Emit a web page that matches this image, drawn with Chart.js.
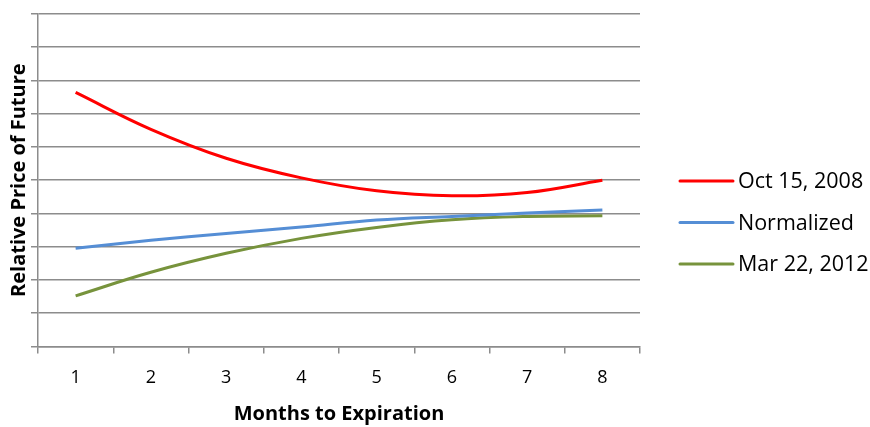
<!DOCTYPE html>
<html>
<head>
<meta charset="utf-8">
<script src="https://cdn.jsdelivr.net/npm/chart.js@4"></script>
<style>
  html, body { margin: 0; padding: 0; background: #fff; }
  #wrap { width: 870px; height: 427px; }
</style>
</head>
<body>
<div id="wrap"><canvas id="futures-chart"></canvas></div>
<script>
// --- Data ---
const months = ['1', '2', '3', '4', '5', '6', '7', '8'];
const oct2008 = [7.64, 6.53, 5.66, 5.07, 4.68, 4.53, 4.63, 5.0];
const normalized = [2.95, 3.19, 3.40, 3.59, 3.80, 3.91, 4.01, 4.10];
const mar2012 = [1.52, 2.23, 2.80, 3.25, 3.58, 3.81, 3.91, 3.93];

const fontFamily = '"Open Sans", Lato, sans-serif';
const gridColor = '#8c8c8c';

function line(label, data, color) {
    return {
        label: label,
        data: data,
        borderColor: color,
        backgroundColor: color,
        borderWidth: 3,
        pointRadius: 0,
        tension: 0.4,
        fill: false
    };
}

// legend drawn to the right of the plot, like the Excel original
const sideLegend = {
    id: 'sideLegend',
    afterDraw(chart) {
        const c = chart.ctx;
        const area = chart.chartArea;
        const x0 = area.right + 40;
        const y0 = 181;
        const step = 41.5;
        c.save();
        c.font = '21.5px ' + fontFamily;
        c.textBaseline = 'middle';
        c.fillStyle = '#000';
        chart.data.datasets.forEach((ds, i) => {
            const y = y0 + i * step;
            c.strokeStyle = ds.borderColor;
            c.lineWidth = 3;
            c.lineCap = 'round';
            c.beginPath();
            c.moveTo(x0, y);
            c.lineTo(x0 + 53, y);
            c.stroke();
            c.fillText(ds.label, x0 + 58, y + 1);
        });
        c.restore();
    }
};

const ctx = document.getElementById('futures-chart').getContext('2d');
new Chart(ctx, {
    type: 'line',
    data: {
        labels: months,
        datasets: [
            line('Oct 15, 2008', oct2008, '#ff0000'),
            line('Normalized', normalized, '#558ed5'),
            line('Mar 22, 2012', mar2012, '#77933c')
        ]
    },
    plugins: [sideLegend],
    options: {
        responsive: true,
        maintainAspectRatio: false,
        animation: false,
        layout: { padding: { top: 14, left: 2, right: 230, bottom: 2 } },
        plugins: {
            legend: { display: false },
            tooltip: { enabled: false }
        },
        scales: {
            x: {
                offset: true,
                grid: {
                    offset: true,
                    drawOnChartArea: false,
                    drawTicks: true,
                    tickLength: 7,
                    color: gridColor,
                    lineWidth: 1.5
                },
                border: { color: gridColor, width: 1.5 },
                ticks: {
                    color: '#000',
                    padding: 14,
                    font: { family: fontFamily, size: 18 }
                },
                title: {
                    display: true,
                    text: 'Months to Expiration',
                    color: '#000',
                    padding: { top: 0, bottom: 0 },
                    font: { family: fontFamily, size: 20, weight: 'bold', lineHeight: 1.1 }
                }
            },
            y: {
                min: 0,
                max: 10,
                grid: {
                    color: gridColor,
                    lineWidth: 1.5,
                    tickLength: 7
                },
                border: { color: gridColor, width: 1.5 },
                ticks: { stepSize: 1, display: false },
                title: {
                    display: true,
                    text: 'Relative Price of Future',
                    color: '#000',
                    padding: { top: 5, bottom: 0 },
                    font: { family: fontFamily, size: 20, weight: 'bold' }
                }
            }
        }
    }
});
</script>
</body>
</html>
